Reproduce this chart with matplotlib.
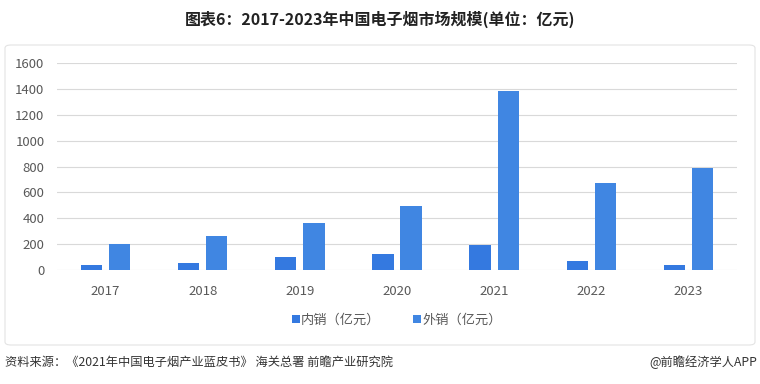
import matplotlib.pyplot as plt
import numpy as np
from matplotlib.patches import FancyBboxPatch

plt.rcParams['font.family'] = ['Noto Sans CJK SC', 'DejaVu Sans']

years = ['2017', '2018', '2019', '2020', '2021', '2022', '2023']
domestic = [39, 56, 98, 121, 193, 70, 36]
export = [199, 265, 366, 495, 1380, 671, 792]
yticks = [0, 200, 400, 600, 800, 1000, 1200, 1400, 1600]

W, H = 760, 384
fig = plt.figure(figsize=(W / 100, H / 100), dpi=100)

# light frame around the chart, kept behind the axes
frame = FancyBboxPatch((5 / W, 1 - 345 / H), 750 / W, 300 / H,
                       boxstyle='round,pad=0,rounding_size=0.008',
                       transform=fig.transFigure, facecolor='white',
                       edgecolor='#e3e3e3', linewidth=0.8, zorder=-5)
fig.add_artist(frame)

ax = fig.add_axes([57 / W, 1 - 270 / H, 680 / W, 207 / H])
ax.set_facecolor('none')

x = np.arange(len(years))
bw = 0.22
ax.bar(x - 0.145, domestic, bw, color='#3479E0', label='内销（亿元）', zorder=3)
ax.bar(x + 0.145, export, bw, color='#4086E2', label='外销（亿元）', zorder=3)

ax.set_xlim(-0.5, len(years) - 0.5)
ax.set_ylim(0, 1600)
ax.set_yticks(yticks)
ax.set_xticks(x)
ax.set_xticklabels(years)
ax.grid(axis='y', color='#d9d9d9', linewidth=0.8, zorder=0)
for s in ax.spines.values():
    s.set_visible(False)
ax.tick_params(length=0, labelsize=9.5, colors='#595959')
ax.tick_params(axis='x', pad=11)
ax.tick_params(axis='y', pad=9)

ax.legend(loc='center', bbox_to_anchor=(0.5, (320 - 270) / -207), ncol=2,
          frameon=False, fontsize=9.5, handlelength=0.55, handleheight=0.55,
          handletextpad=0.1, columnspacing=2.5, labelcolor='#595959')

fig.text(0.5, 1 - 19 / H, '图表6：2017-2023年中国电子烟市场规模(单位：亿元)',
         ha='center', va='center', fontsize=11.5, fontweight='bold', color='#222222')
fig.text(5 / W, 1 - 362 / H, '资料来源：《2021年中国电子烟产业蓝皮书》 海关总署 前瞻产业研究院',
         ha='left', va='center', fontsize=8.8, color='#333333')
fig.text(757 / W, 1 - 362 / H, '@前瞻经济学人APP',
         ha='right', va='center', fontsize=8.8, color='#333333')

fig.savefig('out.png', dpi=100)
